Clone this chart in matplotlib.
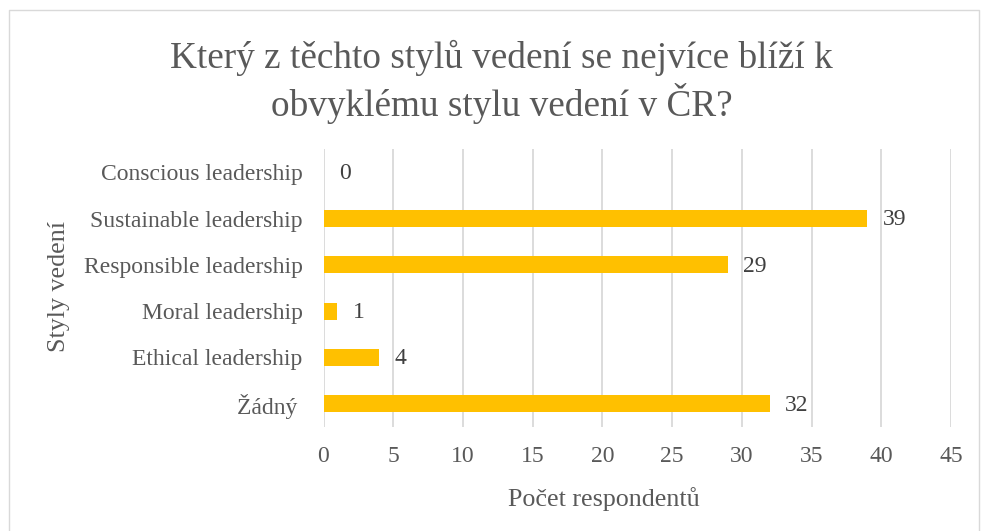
import matplotlib.pyplot as plt
from matplotlib.lines import Line2D

plt.rcParams['font.family'] = ['Liberation Serif', 'DejaVu Serif']

styles = ['Žádný ', 'Ethical leadership', 'Moral leadership',
          'Responsible leadership', 'Sustainable leadership', 'Conscious leadership']
counts = [32, 4, 1, 29, 39, 0]
xticks = [0, 5, 10, 15, 20, 25, 30, 35, 40, 45]

W, H = 983, 531
fig = plt.figure(figsize=(W / 100, H / 100), dpi=100)
ax = fig.add_axes([323.5 / W, 1 - 427 / H, 627.5 / W, 278 / H])

ypos = range(len(styles))
bars = ax.barh(ypos, counts, height=0.36, color='#FFC000', zorder=3)
for b, v in zip(bars, counts):
    ax.annotate(str(v), (b.get_width(), b.get_y() + b.get_height() / 2),
                xytext=(11, -1), textcoords='offset points',
                va='center', ha='left', fontsize=17, color='#404040')

ax.set_xlim(0, 45)
ax.set_ylim(-0.5, len(styles) - 0.5)
ax.set_xticks(xticks)
ax.set_yticks(list(ypos))
ax.set_yticklabels(styles)
ax.tick_params(axis='both', length=0, labelsize=17, colors='#595959')
ax.tick_params(axis='y', pad=15)
ax.tick_params(axis='x', pad=14)
ax.xaxis.grid(True, color='#D9D9D9', linewidth=1.3, zorder=0)
for s in ['top', 'right', 'bottom', 'left']:
    ax.spines[s].set_visible(False)

fig.text(604 / W, 1 - 506 / H, 'Počet respondentů', ha='center', va='baseline',
         fontsize=18.7, color='#595959')
fig.text(59 / W, 1 - 287 / H, 'Styly vedení', ha='center', va='center',
         rotation=90, fontsize=18.7, color='#595959')

tx = 0.5 + 10 / W
fig.text(tx, 1 - 68 / H, 'Který z těchto stylů vedení se nejvíce blíží k',
         ha='center', va='baseline', fontsize=26.8, color='#595959')
fig.text(tx, 1 - 116 / H, 'obvyklému stylu vedení v ČR?',
         ha='center', va='baseline', fontsize=26.8, color='#595959')

# chart area border (left, top, right)
bx0, bx1, by0 = 8.5 / W, 978.5 / W, 1 - 10 / H
fig.add_artist(Line2D([bx0, bx0, bx1, bx1], [0, by0, by0, 0],
                      transform=fig.transFigure, color='#D9D9D9', linewidth=1))

fig.savefig('out.png', dpi=100)
